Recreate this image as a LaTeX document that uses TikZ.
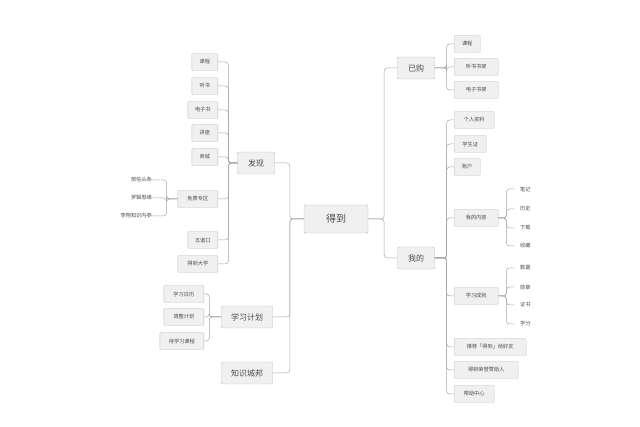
\documentclass[tikz,border=0pt]{standalone}
\usepackage{fontspec}
\setmainfont{Noto Sans CJK SC}
\begin{document}
\begin{tikzpicture}[x=1pt,y=-1pt,
 bx/.style={draw=black!25,fill=black!6,rounded corners=1pt,inner sep=0pt,minimum height=17pt,text=black!70,font=\fontsize{5.2}{6}\selectfont},
 l1/.style={bx,minimum height=22pt,minimum width=37pt,font=\fontsize{8}{9}\selectfont},
 pl/.style={inner sep=1pt,text=black!70,font=\fontsize{5.2}{6}\selectfont},
 ln/.style={draw=black!35,line width=0.5pt,rounded corners=3pt}]
\useasboundingbox (0,0) rectangle (640,427);
\node[bx,minimum width=64pt,minimum height=28pt,font=\fontsize{10}{12}\selectfont] (c) at (336,219) {得到};
\node[l1] (fx) at (256,163) {发现};
\node[l1,minimum width=51pt] (xx) at (247,317) {学习计划};
\node[l1,minimum width=51pt] (zs) at (247,373) {知识城邦};
\node[l1] (yg) at (416,68) {已购};
\node[l1] (wd) at (416,258) {我的};
\foreach \n/\y/\w/\t in {a1/62/26/课程,a2/86/26/听书,a3/110/30/电子书,a4/133/26/讲座,a5/157/26/商城,a6/199/40/免费专区,a7/240/30/五道口,a8/264/40/得到大学}
 \node[bx,minimum width=\w pt,anchor=east] (\n) at (218,\y) {\t};
\foreach \n/\y/\t in {b1/180/部信头条,b2/198/罗辑思维,b3/216/李翔知识内参}
 \node[pl,anchor=east] (\n) at (153,\y) {\t};
\foreach \n/\y/\w/\t in {c1/294/40/学习日历,c2/317/40/调整计划,c3/341/44/待学习课程}
 \node[bx,minimum width=\w pt,anchor=east] (\n) at (204,\y) {\t};
\foreach \n/\y/\w/\t in {d1/44/26/课程,d2/67/44/听书书架,d3/90/44/电子书架,e1/120/40/个人资料,e2/144/32/学生证,e3/167/26/账户,e4/218/44/我的内容,e5/296/44/学习成就,e6/347/72/推荐「得到」给好友,e7/370/64/得到荣誉赞助人,e8/394/40/帮助中心}
 \node[bx,minimum width=\w pt,anchor=west] (\n) at (454,\y) {\t};
\foreach \n/\y/\t in {f1/189/笔记,f2/209/历史,f3/228/下载,f4/246/收藏,g1/268/数据,g2/287/勋章,g3/305/证书,g4/324/学分}
 \node[pl,anchor=west] (\n) at (519,\y) {\t};
% connectors
\foreach \p in {fx,xx,zs} \draw[ln] (c.west) -- ++(-14,0) |- (\p.east);
\foreach \p in {yg,wd} \draw[ln] (c.east) -- ++(16,0) |- (\p.west);
\foreach \k in {a1,a2,a3,a4,a5,a6,a7,a8} \draw[ln] (fx.west) -- ++(-9,0) |- (\k.east);
\foreach \k in {b1,b2,b3} \draw[ln] (a6.west) -- ++(-11,0) |- ([xshift=-10pt]\k.east);
\foreach \k in {c1,c2,c3} \draw[ln] (xx.west) -- ++(-12,0) |- (\k.east);
\foreach \k in {d1,d2,d3} \draw[ln] (yg.east) -- ++(12,0) |- (\k.west);
\foreach \k in {e1,e2,e3,e4,e5,e6,e7,e8} \draw[ln] (wd.east) -- ++(12,0) |- (\k.west);
\foreach \k in {f1,f2,f3,f4} \draw[ln] (e4.east) -- ++(8,0) |- ([xshift=-5pt]\k.west);
\foreach \k in {g1,g2,g3,g4} \draw[ln] (e5.east) -- ++(8,0) |- ([xshift=-5pt]\k.west);
\end{tikzpicture}
\end{document}
